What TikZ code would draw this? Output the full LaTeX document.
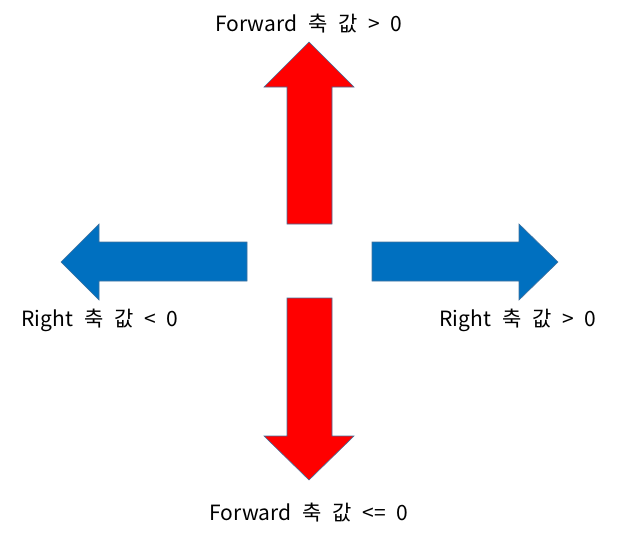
\documentclass[tikz,border=0pt]{standalone}
\usepackage{fontspec}
\setmainfont[WordSpace=2.3]{Noto Sans CJK KR}
\definecolor{ArrowRed}{rgb}{1,0,0}
\definecolor{ArrowBlue}{HTML}{0070C0}
\definecolor{EdgeClr}{HTML}{41719C}

\begin{document}
\begin{tikzpicture}[x=1pt,y=-1pt,
  arrowshape/.style={draw=EdgeClr,line width=0.6pt},
  axislabel/.style={font=\fontsize{21}{24}\selectfont,inner sep=0pt}]
\useasboundingbox (0,0) rectangle (619,544);

% forward arrows
\draw[arrowshape,fill=ArrowRed] (287,224) -- (287,87) -- (264,87) -- (309,42)
  -- (354,87) -- (332,87) -- (332,224) -- cycle;
\draw[arrowshape,fill=ArrowRed] (287,298) -- (287,436) -- (264,436) -- (309,480)
  -- (354,436) -- (332,436) -- (332,298) -- cycle;

% right arrows
\draw[arrowshape,fill=ArrowBlue] (247,242) -- (99,242) -- (99,224) -- (61,262)
  -- (99,300) -- (99,281) -- (247,281) -- cycle;
\draw[arrowshape,fill=ArrowBlue] (372,242) -- (519,242) -- (519,224) -- (558,262)
  -- (519,300) -- (519,281) -- (372,281) -- cycle;

\node[axislabel] (fwdpos) at (309,24) {Forward 축 값 > 0};
\node[axislabel] (fwdneg) at (309,513) {Forward 축 값 <= 0};
\node[axislabel] (rgtneg) at (100,320) {Right 축 값 < 0};
\node[axislabel] (rgtpos) at (518,320) {Right 축 값 > 0};

\end{tikzpicture}
\end{document}
